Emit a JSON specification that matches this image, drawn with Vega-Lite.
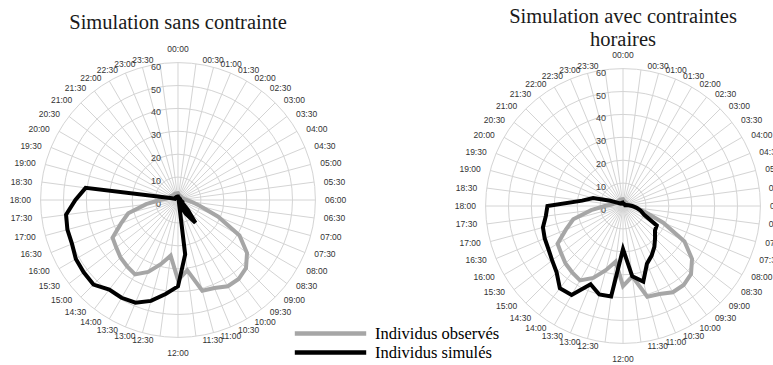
{
  "$schema": "https://vega.github.io/schema/vega-lite/v6.json",
  "padding": 0,
  "spacing": 0,
  "bounds": "flush",
  "background": "white",
  "config": {"view": {"stroke": null}, "axis": {"disable": true}},
  "datasets": {
    "rings": [{"r": 0}, {"r": 10}, {"r": 20}, {"r": 30}, {"r": 40}, {"r": 50}, {"r": 60}],
    "titles": [{"panel": "sans", "label": "Simulation sans contrainte"}, {"panel": "avec", "label": "Simulation avec contraintes\nhoraires"}],
    "hours": [
      {"k": 0, "t": "00:00", "obs": 3, "sans": 1.5, "avec": 1},
      {"k": 1, "t": "00:30", "obs": 2.5, "sans": 1, "avec": 1},
      {"k": 2, "t": "01:00", "obs": 2, "sans": 1, "avec": 1},
      {"k": 3, "t": "01:30", "obs": 2, "sans": 1, "avec": 1},
      {"k": 4, "t": "02:00", "obs": 2, "sans": 1, "avec": 1},
      {"k": 5, "t": "02:30", "obs": 2, "sans": 1, "avec": 1},
      {"k": 6, "t": "03:00", "obs": 2, "sans": 1, "avec": 1},
      {"k": 7, "t": "03:30", "obs": 2, "sans": 1, "avec": 1},
      {"k": 8, "t": "04:00", "obs": 2, "sans": 1, "avec": 1},
      {"k": 9, "t": "04:30", "obs": 2, "sans": 1, "avec": 1},
      {"k": 10, "t": "05:00", "obs": 2.5, "sans": 1, "avec": 1.5},
      {"k": 11, "t": "05:30", "obs": 3, "sans": 1, "avec": 2.5},
      {"k": 12, "t": "06:00", "obs": 4, "sans": 1, "avec": 4},
      {"k": 13, "t": "06:30", "obs": 6, "sans": 1, "avec": 6},
      {"k": 14, "t": "07:00", "obs": 10, "sans": 1.5, "avec": 8},
      {"k": 15, "t": "07:30", "obs": 19, "sans": 2, "avec": 10},
      {"k": 16, "t": "08:00", "obs": 31, "sans": 2, "avec": 17},
      {"k": 17, "t": "08:30", "obs": 38, "sans": 3, "avec": 17.6},
      {"k": 18, "t": "09:00", "obs": 42, "sans": 6, "avec": 19.8},
      {"k": 19, "t": "09:30", "obs": 43.5, "sans": 12.5, "avec": 22.5},
      {"k": 20, "t": "10:00", "obs": 43.5, "sans": 7, "avec": 25},
      {"k": 21, "t": "10:30", "obs": 41.6, "sans": 3, "avec": 27.3},
      {"k": 22, "t": "11:00", "obs": 41, "sans": 2, "avec": 34.2},
      {"k": 23, "t": "11:30", "obs": 31, "sans": 24, "avec": 31},
      {"k": 24, "t": "12:00", "obs": 35, "sans": 37.7, "avec": 18.8},
      {"k": 25, "t": "12:30", "obs": 24.5, "sans": 41.4, "avec": 39.8},
      {"k": 26, "t": "13:00", "obs": 29, "sans": 45.6, "avec": 40},
      {"k": 27, "t": "13:30", "obs": 34, "sans": 48.5, "avec": 37},
      {"k": 28, "t": "14:00", "obs": 37.5, "sans": 49.3, "avec": 44.9},
      {"k": 29, "t": "14:30", "obs": 36.5, "sans": 49.3, "avec": 45.3},
      {"k": 30, "t": "15:00", "obs": 35.5, "sans": 52.2, "avec": 41},
      {"k": 31, "t": "15:30", "obs": 34, "sans": 51.9, "avec": 39},
      {"k": 32, "t": "16:00", "obs": 33, "sans": 51.5, "avec": 37.6},
      {"k": 33, "t": "16:30", "obs": 27, "sans": 50.1, "avec": 37},
      {"k": 34, "t": "17:00", "obs": 22.5, "sans": 50, "avec": 36.2},
      {"k": 35, "t": "17:30", "obs": 14, "sans": 49.3, "avec": 34},
      {"k": 36, "t": "18:00", "obs": 8, "sans": 44.8, "avec": 33},
      {"k": 37, "t": "18:30", "obs": 5, "sans": 40.7, "avec": 18},
      {"k": 38, "t": "19:00", "obs": 4, "sans": 3.5, "avec": 13.5},
      {"k": 39, "t": "19:30", "obs": 3.5, "sans": 1.5, "avec": 6},
      {"k": 40, "t": "20:00", "obs": 3.5, "sans": 1.5, "avec": 3},
      {"k": 41, "t": "20:30", "obs": 3, "sans": 1.5, "avec": 2},
      {"k": 42, "t": "21:00", "obs": 3, "sans": 1.5, "avec": 1.5},
      {"k": 43, "t": "21:30", "obs": 3, "sans": 1.5, "avec": 1.5},
      {"k": 44, "t": "22:00", "obs": 3, "sans": 1.5, "avec": 1.5},
      {"k": 45, "t": "22:30", "obs": 3, "sans": 1.5, "avec": 1.5},
      {"k": 46, "t": "23:00", "obs": 3, "sans": 1.5, "avec": 1.5},
      {"k": 47, "t": "23:30", "obs": 3, "sans": 1.5, "avec": 1.5}
    ]
  },
  "hconcat": [
    {
      "width": 360,
      "height": 365,
      "layer": [
        {
          "data": {"name": "rings"},
          "transform": [{"filter": "datum.r > 0"}, {"calculate": "0", "as": "o"}],
          "mark": {"type": "point", "shape": "circle", "filled": false, "stroke": "#d4d4d4", "strokeWidth": 1, "opacity": 1},
          "encoding": {
            "x": {"field": "o", "type": "quantitative", "scale": {"domain": [-77.73, 79.48], "nice": false, "zero": false}, "axis": null},
            "y": {"field": "o", "type": "quantitative", "scale": {"domain": [-72.05, 87.34], "nice": false, "zero": false}, "axis": null},
            "size": {"field": "r", "type": "quantitative", "scale": {"type": "pow", "exponent": 2, "domain": [0, 60], "range": [0, 75515], "zero": true}, "legend": null}
          }
        },
        {
          "data": {"name": "hours"},
          "transform": [
            {"calculate": "0", "as": "o"},
            {"calculate": "datum.k * PI / 24", "as": "a"},
            {"calculate": "60 * sin(datum.a)", "as": "ex"},
            {"calculate": "60 * cos(datum.a)", "as": "ey"}
          ],
          "mark": {"type": "rule", "stroke": "#d4d4d4", "strokeWidth": 1},
          "encoding": {
            "x": {"field": "o", "type": "quantitative"},
            "y": {"field": "o", "type": "quantitative"},
            "x2": {"field": "ex"},
            "y2": {"field": "ey"}
          }
        },
        {
          "data": {"name": "rings"},
          "transform": [{"calculate": "0", "as": "o"}],
          "mark": {"type": "text", "align": "right", "baseline": "middle", "dx": -17, "dy": 4, "font": "Liberation Sans", "fontSize": 9, "color": "#404040"},
          "encoding": {
            "x": {"field": "o", "type": "quantitative"},
            "y": {"field": "r", "type": "quantitative"},
            "text": {"field": "r", "type": "quantitative"}
          }
        },
        {
          "data": {"name": "hours"},
          "transform": [
            {"filter": "datum.k > 0 && datum.k < 24"},
            {"calculate": "datum.k * PI / 24", "as": "a"},
            {"calculate": "61.6 * sin(datum.a)", "as": "lx"},
            {"calculate": "61.6 * cos(datum.a)", "as": "ly"}
          ],
          "mark": {"type": "text", "align": "left", "baseline": "middle", "dx": 6, "font": "Liberation Sans", "fontSize": 8.5, "color": "#333333"},
          "encoding": {"x": {"field": "lx", "type": "quantitative"}, "y": {"field": "ly", "type": "quantitative"}, "text": {"field": "t"}}
        },
        {
          "data": {"name": "hours"},
          "transform": [
            {"filter": "datum.k > 24"},
            {"calculate": "datum.k * PI / 24", "as": "a"},
            {"calculate": "61.6 * sin(datum.a)", "as": "lx"},
            {"calculate": "61.6 * cos(datum.a)", "as": "ly"}
          ],
          "mark": {"type": "text", "align": "right", "baseline": "middle", "dx": -6, "font": "Liberation Sans", "fontSize": 8.5, "color": "#333333"},
          "encoding": {"x": {"field": "lx", "type": "quantitative"}, "y": {"field": "ly", "type": "quantitative"}, "text": {"field": "t"}}
        },
        {
          "data": {"name": "hours"},
          "transform": [
            {"filter": "datum.k == 0"},
            {"calculate": "0", "as": "o"},
            {"calculate": "61.6", "as": "ly"}
          ],
          "mark": {"type": "text", "align": "center", "baseline": "bottom", "dy": -5, "font": "Liberation Sans", "fontSize": 8.5, "color": "#333333"},
          "encoding": {"x": {"field": "o", "type": "quantitative"}, "y": {"field": "ly", "type": "quantitative"}, "text": {"field": "t"}}
        },
        {
          "data": {"name": "hours"},
          "transform": [
            {"filter": "datum.k == 24"},
            {"calculate": "0", "as": "o"},
            {"calculate": "-61.6", "as": "ly"}
          ],
          "mark": {"type": "text", "align": "center", "baseline": "top", "dy": 8, "font": "Liberation Sans", "fontSize": 8.5, "color": "#333333"},
          "encoding": {"x": {"field": "o", "type": "quantitative"}, "y": {"field": "ly", "type": "quantitative"}, "text": {"field": "t"}}
        },
        {
          "data": {"name": "hours"},
          "transform": [
            {"fold": ["obs", "sans"], "as": ["s", "v"]},
            {"calculate": "datum.s == 'obs' ? 'Individus observés' : 'Individus simulés'", "as": "serie"},
            {"calculate": "datum.k * PI / 24", "as": "a"},
            {"calculate": "datum.v * sin(datum.a)", "as": "px"},
            {"calculate": "datum.v * cos(datum.a)", "as": "py"}
          ],
          "mark": {"type": "line", "interpolate": "linear-closed", "strokeWidth": 4},
          "encoding": {
            "x": {"field": "px", "type": "quantitative"},
            "y": {"field": "py", "type": "quantitative"},
            "order": {"field": "k", "type": "quantitative"},
            "color": {
              "field": "serie", "type": "nominal",
              "scale": {"domain": ["Individus observés", "Individus simulés"], "range": ["#a6a6a6", "#000000"]},
              "legend": {"orient": "none", "legendX": 321, "legendY": 324, "title": null, "padding": 0, "symbolType": "M-5.1,0H5.1", "symbolSize": 196, "symbolStrokeWidth": 4.5, "labelFont": "Liberation Serif", "labelFontSize": 16.5, "labelColor": "#000000", "labelOffset": 35, "rowPadding": 0}
            }
          }
        },
        {
          "data": {"name": "titles"},
          "transform": [{"filter": "datum.panel == 'sans'"}, {"calculate": "0", "as": "o"}, {"calculate": "77.2", "as": "ty"}],
          "mark": {"type": "text", "align": "center", "baseline": "middle", "font": "Liberation Serif", "fontSize": 20.5, "color": "#1a1a1a"},
          "encoding": {"x": {"field": "o", "type": "quantitative"}, "y": {"field": "ty", "type": "quantitative"}, "text": {"field": "label"}}
        }
      ]
    },
    {
      "width": 413,
      "height": 365,
      "layer": [
        {
          "data": {"name": "rings"},
          "transform": [{"filter": "datum.r > 0"}, {"calculate": "0", "as": "o"}],
          "mark": {"type": "point", "shape": "circle", "filled": false, "stroke": "#d4d4d4", "strokeWidth": 1, "opacity": 1},
          "encoding": {
            "x": {"field": "o", "type": "quantitative", "scale": {"domain": [-114.85, 65.5], "nice": false, "zero": false}, "axis": null},
            "y": {"field": "o", "type": "quantitative", "scale": {"domain": [-69.43, 89.96], "nice": false, "zero": false}, "axis": null},
            "size": {"field": "r", "type": "quantitative", "scale": {"type": "pow", "exponent": 2, "domain": [0, 60], "range": [0, 75515], "zero": true}, "legend": null}
          }
        },
        {
          "data": {"name": "hours"},
          "transform": [
            {"calculate": "0", "as": "o"},
            {"calculate": "datum.k * PI / 24", "as": "a"},
            {"calculate": "60 * sin(datum.a)", "as": "ex"},
            {"calculate": "60 * cos(datum.a)", "as": "ey"}
          ],
          "mark": {"type": "rule", "stroke": "#d4d4d4", "strokeWidth": 1},
          "encoding": {
            "x": {"field": "o", "type": "quantitative"},
            "y": {"field": "o", "type": "quantitative"},
            "x2": {"field": "ex"},
            "y2": {"field": "ey"}
          }
        },
        {
          "data": {"name": "rings"},
          "transform": [{"calculate": "0", "as": "o"}],
          "mark": {"type": "text", "align": "right", "baseline": "middle", "dx": -17, "dy": 4, "font": "Liberation Sans", "fontSize": 9, "color": "#404040"},
          "encoding": {
            "x": {"field": "o", "type": "quantitative"},
            "y": {"field": "r", "type": "quantitative"},
            "text": {"field": "r", "type": "quantitative"}
          }
        },
        {
          "data": {"name": "hours"},
          "transform": [
            {"filter": "datum.k > 0 && datum.k < 24"},
            {"calculate": "datum.k * PI / 24", "as": "a"},
            {"calculate": "61.6 * sin(datum.a)", "as": "lx"},
            {"calculate": "61.6 * cos(datum.a)", "as": "ly"}
          ],
          "mark": {"type": "text", "align": "left", "baseline": "middle", "dx": 6, "font": "Liberation Sans", "fontSize": 8.5, "color": "#333333", "clip": true},
          "encoding": {"x": {"field": "lx", "type": "quantitative"}, "y": {"field": "ly", "type": "quantitative"}, "text": {"field": "t"}}
        },
        {
          "data": {"name": "hours"},
          "transform": [
            {"filter": "datum.k > 24"},
            {"calculate": "datum.k * PI / 24", "as": "a"},
            {"calculate": "61.6 * sin(datum.a)", "as": "lx"},
            {"calculate": "61.6 * cos(datum.a)", "as": "ly"}
          ],
          "mark": {"type": "text", "align": "right", "baseline": "middle", "dx": -6, "font": "Liberation Sans", "fontSize": 8.5, "color": "#333333"},
          "encoding": {"x": {"field": "lx", "type": "quantitative"}, "y": {"field": "ly", "type": "quantitative"}, "text": {"field": "t"}}
        },
        {
          "data": {"name": "hours"},
          "transform": [
            {"filter": "datum.k == 0"},
            {"calculate": "0", "as": "o"},
            {"calculate": "61.6", "as": "ly"}
          ],
          "mark": {"type": "text", "align": "center", "baseline": "bottom", "dy": -5, "font": "Liberation Sans", "fontSize": 8.5, "color": "#333333"},
          "encoding": {"x": {"field": "o", "type": "quantitative"}, "y": {"field": "ly", "type": "quantitative"}, "text": {"field": "t"}}
        },
        {
          "data": {"name": "hours"},
          "transform": [
            {"filter": "datum.k == 24"},
            {"calculate": "0", "as": "o"},
            {"calculate": "-61.6", "as": "ly"}
          ],
          "mark": {"type": "text", "align": "center", "baseline": "top", "dy": 8, "font": "Liberation Sans", "fontSize": 8.5, "color": "#333333"},
          "encoding": {"x": {"field": "o", "type": "quantitative"}, "y": {"field": "ly", "type": "quantitative"}, "text": {"field": "t"}}
        },
        {
          "data": {"name": "hours"},
          "transform": [
            {"fold": ["obs", "avec"], "as": ["s", "v"]},
            {"calculate": "datum.s == 'obs' ? 'Individus observés' : 'Individus simulés'", "as": "serie"},
            {"calculate": "datum.k * PI / 24", "as": "a"},
            {"calculate": "datum.v * sin(datum.a)", "as": "px"},
            {"calculate": "datum.v * cos(datum.a)", "as": "py"}
          ],
          "mark": {"type": "line", "interpolate": "linear-closed", "strokeWidth": 4},
          "encoding": {
            "x": {"field": "px", "type": "quantitative"},
            "y": {"field": "py", "type": "quantitative"},
            "order": {"field": "k", "type": "quantitative"},
            "color": {
              "field": "serie", "type": "nominal",
              "scale": {"domain": ["Individus observés", "Individus simulés"], "range": ["#a6a6a6", "#000000"]},
              "legend": {"orient": "none", "legendX": 321, "legendY": 324, "title": null, "padding": 0, "symbolType": "M-5.1,0H5.1", "symbolSize": 196, "symbolStrokeWidth": 4.5, "labelFont": "Liberation Serif", "labelFontSize": 16.5, "labelColor": "#000000", "labelOffset": 35, "rowPadding": 0}
            }
          }
        },
        {
          "data": {"name": "titles"},
          "transform": [{"filter": "datum.panel == 'avec'"}, {"calculate": "0", "as": "o"}, {"calculate": "82.66", "as": "ty"}],
          "mark": {"type": "text", "align": "center", "baseline": "middle", "lineBreak": "\n", "lineHeight": 23.3, "font": "Liberation Serif", "fontSize": 20.5, "color": "#1a1a1a"},
          "encoding": {"x": {"field": "o", "type": "quantitative"}, "y": {"field": "ty", "type": "quantitative"}, "text": {"field": "label"}}
        }
      ]
    }
  ]
}
